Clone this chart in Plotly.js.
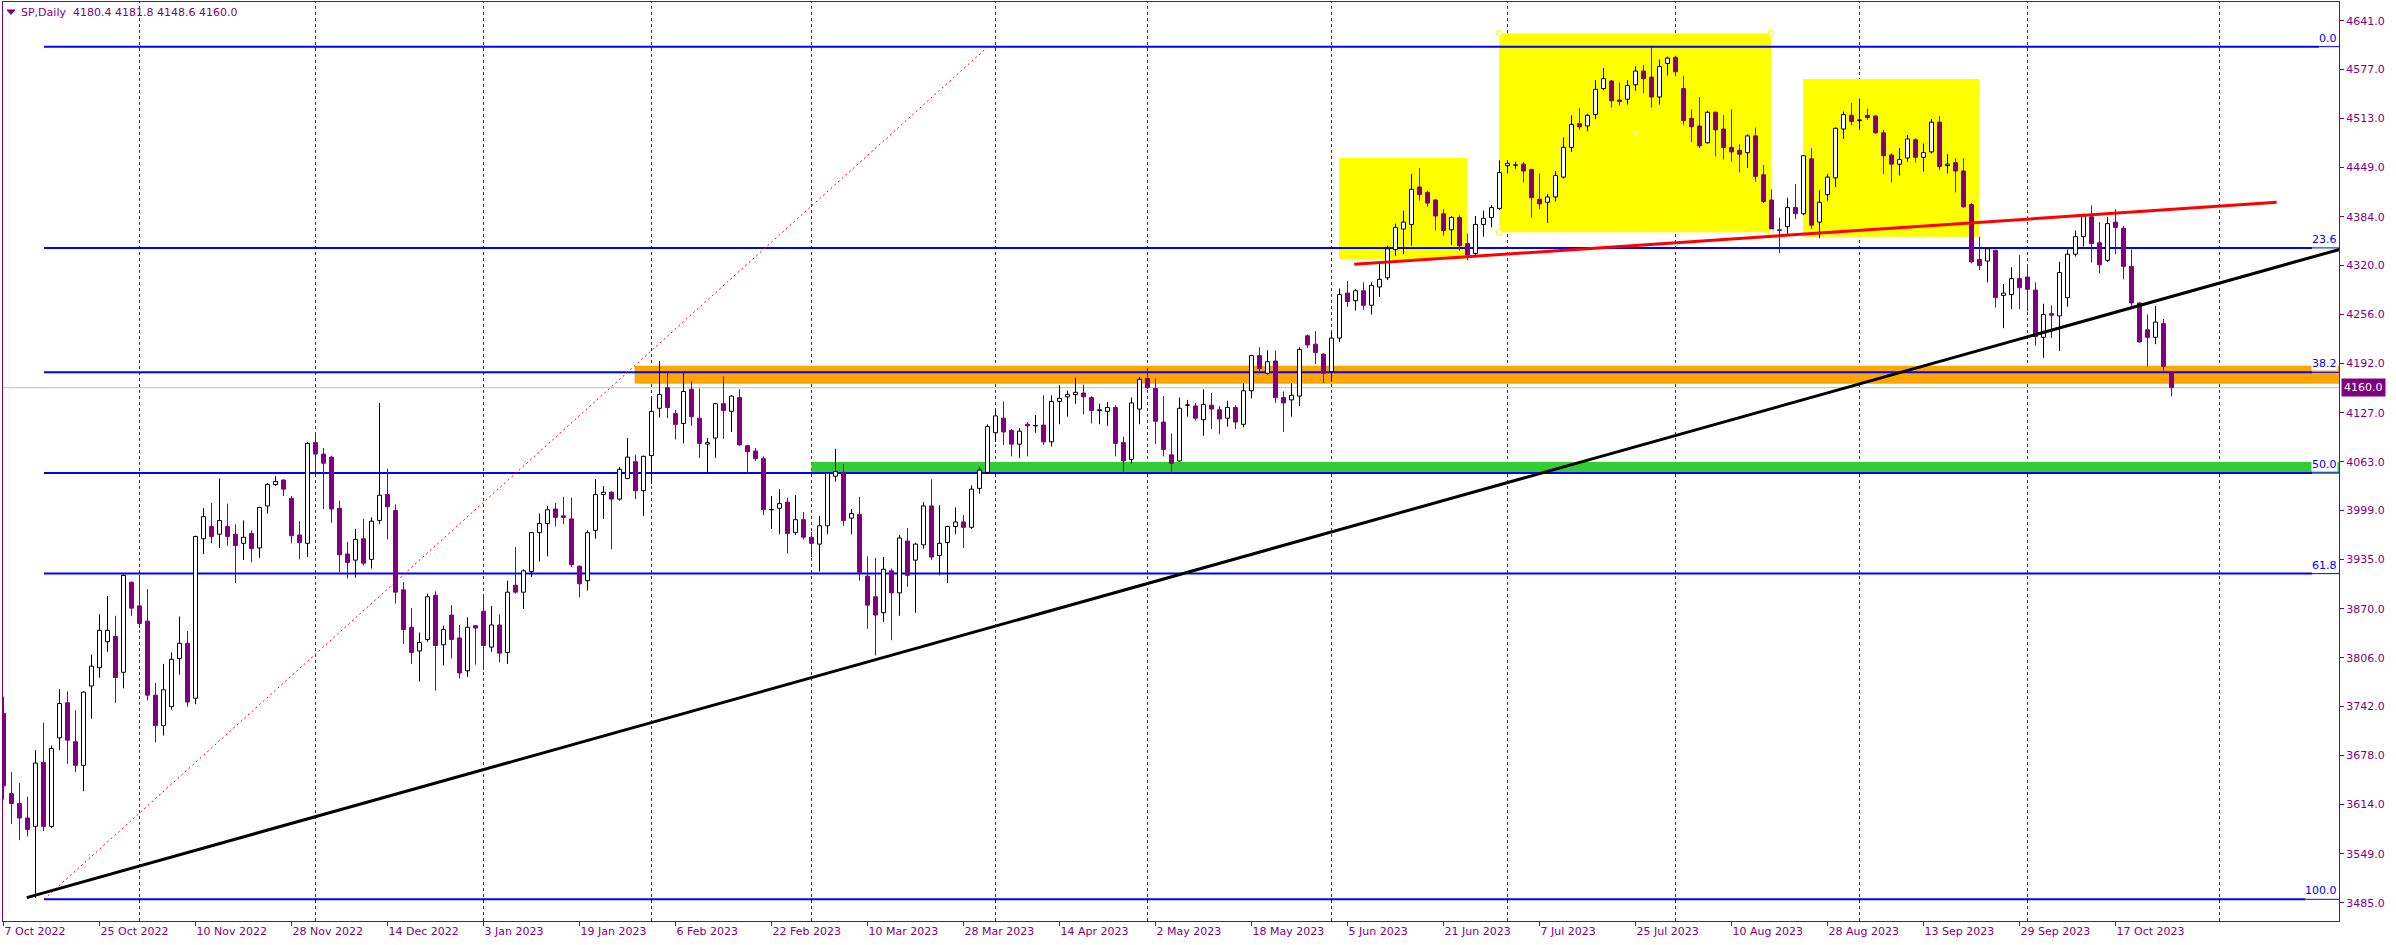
<!DOCTYPE html>
<html><head><meta charset="utf-8">
<script src="https://cdn.plot.ly/plotly-3.0.1.min.js"></script>
<style>html,body{margin:0;padding:0;background:#fff;}#chart{width:2396px;height:945px;}</style>
</head><body><div id="chart"></div>
<script>
// ---------- DATA ----------
const dates = [
"2022.10.07","2022.10.10","2022.10.11","2022.10.12","2022.10.13","2022.10.14","2022.10.17","2022.10.18","2022.10.19","2022.10.20","2022.10.21","2022.10.24","2022.10.25","2022.10.26","2022.10.27","2022.10.28","2022.10.31",
"2022.11.01","2022.11.02","2022.11.03","2022.11.04","2022.11.07","2022.11.08","2022.11.09","2022.11.10","2022.11.11","2022.11.14","2022.11.15","2022.11.16","2022.11.17","2022.11.18","2022.11.21","2022.11.22","2022.11.23","2022.11.24","2022.11.25","2022.11.28","2022.11.29","2022.11.30",
"2022.12.01","2022.12.02","2022.12.05","2022.12.06","2022.12.07","2022.12.08","2022.12.09","2022.12.12","2022.12.13","2022.12.14","2022.12.15","2022.12.16","2022.12.19","2022.12.20","2022.12.21","2022.12.22","2022.12.23","2022.12.27","2022.12.28","2022.12.29","2022.12.30",
"2023.01.03","2023.01.04","2023.01.05","2023.01.06","2023.01.09","2023.01.10","2023.01.11","2023.01.12","2023.01.13","2023.01.16","2023.01.17","2023.01.18","2023.01.19","2023.01.20","2023.01.23","2023.01.24","2023.01.25","2023.01.26","2023.01.27","2023.01.30","2023.01.31",
"2023.02.01","2023.02.02","2023.02.03","2023.02.06","2023.02.07","2023.02.08","2023.02.09","2023.02.10","2023.02.13","2023.02.14","2023.02.15","2023.02.16","2023.02.17","2023.02.20","2023.02.21","2023.02.22","2023.02.23","2023.02.24","2023.02.27","2023.02.28",
"2023.03.01","2023.03.02","2023.03.03","2023.03.06","2023.03.07","2023.03.08","2023.03.09","2023.03.10","2023.03.13","2023.03.14","2023.03.15","2023.03.16","2023.03.17","2023.03.20","2023.03.21","2023.03.22","2023.03.23","2023.03.24","2023.03.27","2023.03.28","2023.03.29","2023.03.30","2023.03.31",
"2023.04.03","2023.04.04","2023.04.05","2023.04.06","2023.04.10","2023.04.11","2023.04.12","2023.04.13","2023.04.14","2023.04.17","2023.04.18","2023.04.19","2023.04.20","2023.04.21","2023.04.24","2023.04.25","2023.04.26","2023.04.27","2023.04.28",
"2023.05.01","2023.05.02","2023.05.03","2023.05.04","2023.05.05","2023.05.08","2023.05.09","2023.05.10","2023.05.11","2023.05.12","2023.05.15","2023.05.16","2023.05.17","2023.05.18","2023.05.19","2023.05.22","2023.05.23","2023.05.24","2023.05.25","2023.05.26","2023.05.29","2023.05.30","2023.05.31",
"2023.06.01","2023.06.02","2023.06.05","2023.06.06","2023.06.07","2023.06.08","2023.06.09","2023.06.12","2023.06.13","2023.06.14","2023.06.15","2023.06.16","2023.06.19","2023.06.20","2023.06.21","2023.06.22","2023.06.23","2023.06.26","2023.06.27","2023.06.28","2023.06.29","2023.06.30",
"2023.07.03","2023.07.04","2023.07.05","2023.07.06","2023.07.07","2023.07.10","2023.07.11","2023.07.12","2023.07.13","2023.07.14","2023.07.17","2023.07.18","2023.07.19","2023.07.20","2023.07.21","2023.07.24","2023.07.25","2023.07.26","2023.07.27","2023.07.28","2023.07.31",
"2023.08.01","2023.08.02","2023.08.03","2023.08.04","2023.08.07","2023.08.08","2023.08.09","2023.08.10","2023.08.11","2023.08.14","2023.08.15","2023.08.16","2023.08.17","2023.08.18","2023.08.21","2023.08.22","2023.08.23","2023.08.24","2023.08.25","2023.08.28","2023.08.29","2023.08.30","2023.08.31",
"2023.09.01","2023.09.04","2023.09.05","2023.09.06","2023.09.07","2023.09.08","2023.09.11","2023.09.12","2023.09.13","2023.09.14","2023.09.15","2023.09.18","2023.09.19","2023.09.20","2023.09.21","2023.09.22","2023.09.25","2023.09.26","2023.09.27","2023.09.28","2023.09.29",
"2023.10.02","2023.10.03","2023.10.04","2023.10.05","2023.10.06","2023.10.09","2023.10.10","2023.10.11","2023.10.12","2023.10.13","2023.10.16","2023.10.17","2023.10.18","2023.10.19","2023.10.20","2023.10.23","2023.10.24","2023.10.25","2023.10.26"
];

const open = [
3733,3628,3615,3596,3585,3669,3585,3701,3747,3696,
3665,3769,3793,3827,3834,3787,3905,3874,3854,3757,
3717,3742,3805,3825,3753,3962,3978,3968,3978,3968,
3956,3969,3950,4005,4033,4039,4015,3967,3956,4088,
4073,4069,4002,3942,3934,3962,3935,3986,4020,3999,
3895,3846,3815,3830,3888,3823,3862,3832,3789,3848,
3867,3820,3849,3813,3901,3892,3919,3970,3982,4001,
3992,3988,3926,3907,3973,4020,4023,4014,4041,4063,
4025,4071,4133,4160,4126,4113,4158,4120,4086,4094,
4139,4129,4147,4084,4077,4067,4000,4002,4010,3970,
3987,3964,3955,3979,4044,4049,3989,3994,3913,3886,
3865,3920,3891,3959,3934,3954,4005,3940,3957,3978,
3984,3977,4028,4049,4101,4120,4104,4086,4112,4110,
4111,4089,4142,4148,4151,4153,4147,4130,4129,4134,
4088,4066,4132,4172,4159,4115,4072,4064,4137,4136,
4118,4137,4131,4120,4134,4112,4156,4202,4179,4195,
4147,4144,4149,4228,4217,4204,4181,4225,4284,4274,
4287,4268,4292,4304,4341,4368,4374,4423,4416,4406,
4388,4367,4383,4349,4336,4374,4383,4395,4451,4451.5,
4453,4446,4407,4403,4410,4436,4475,4506,4503,4518,
4552,4562,4537,4538,4557,4575,4567,4541,4585,4593,
4552,4513,4503,4481,4521,4499,4475,4471,4468,4490,
4439,4406,4367,4371,4396,4388,4460,4377,4413,4435,
4499,4517,4510,4517,4516,4494,4465,4453,4461,4485,
4462,4469,4508,4451,4455,4444,4400,4328,4326,4340,
4281,4282,4303,4305,4288,4226,4257,4254,4278,4335,
4358,4384,4350,4327,4377,4369,4319,4271,4236,4226,
4244,4180.4
];

const high = [
3755,3656,3642,3624,3685,3721,3691,3765,3762,3737,
3762,3810,3863,3887,3861,3915,3906,3915,3896,3773,
3798,3813,3860,3841,3966,4002,4009,4041,4008,3981,
3986,3973,4004,4035,4044,4040,4018,3985,4089,4102,
4081,4071,4012,3958,3975,3988,3990,4140,4054,4007,
3905,3871,3839,3890,3893,3848,3875,3849,3859,3849,
3886,3874,3863,3907,3951,3922,3971,3995,4005,4009,
4017,4016,3927,3973,4040,4031,4024,4056,4094,4072,
4071,4149,4195,4182,4131,4179,4169,4159,4094,4140,
4175,4150,4158,4085,4081,4070,4018,4027,4016,4019,
3997,3971,3992,4049,4080,4060,4001,4017,3939,3937,
3938,3923,3967,3976,3957,4010,4040,4006,3979,4003,
3993,4032,4056,4112,4131,4142,4106,4107,4115,4124,
4150,4150,4163,4156,4173,4164,4149,4139,4141,4137,
4096,4147,4174,4186,4172,4149,4100,4147,4144,4140,
4158,4153,4136,4143,4137,4166,4203,4213,4209,4209,
4155,4166,4213,4230,4234,4205,4233,4290,4300,4289,
4298,4298,4323,4346,4375,4392,4440,4448,4418,4407,
4394,4385,4386,4362,4385,4392,4399,4458,4458,4456,
4456,4447,4441,4414,4444,4488,4517,4527,4519,4563,
4579,4563,4560,4563,4581,4583,4607,4590,4594,4595,
4569,4525,4541,4523,4522,4517,4525,4479,4492,4501,
4452,4420,4383,4409,4427,4465,4474,4419,4440,4501,
4522,4533,4539,4526,4517,4498,4467,4474,4491,4487,
4480,4512,4516,4466,4461,4461,4402,4358,4343,4341,
4296,4318,4334,4318,4298,4270,4268,4325,4341,4366,
4388,4399,4377,4384,4394,4372,4341,4272,4256,4267,
4250,4181.8
];

const low = [
3620,3588,3567,3572,3491,3579,3583,3685,3667,3656,
3631,3726,3780,3814,3747,3766,3861,3845,3750,3695,
3704,3738,3784,3742,3745,3942,3956,3950,3953,3904,
3934,3931,3937,3995,4031,4018,3956,3935,3938,4048,
4001,3983,3918,3910,3911,3927,3923,3981,3961,3877,
3824,3798,3775,3827,3763,3796,3805,3779,3781,3797,
3790,3814,3800,3798,3890,3870,3912,3932,3939,3978,
3981,3925,3885,3894,3962,3988,3948,4012,4040,4014,
3992,4034,4121,4120,4092,4087,4110,4068,4049,4068,
4093,4102,4084,4048,4064,3993,3975,3968,3943,3967,
3961,3938,3919,3968,4037,3979,3968,3907,3844,3809,
3853,3829,3861,3899,3865,3949,3934,3914,3904,3968,
3950,3975,4021,4047,4089,4085,4070,4068,4070,4101,
4085,4083,4112,4122,4139,4125,4113,4112,4110,4070,
4047,4061,4112,4158,4086,4070,4047,4063,4122,4117,
4097,4106,4099,4109,4106,4108,4146,4179,4177,4140,
4102,4122,4136,4212,4191,4166,4168,4220,4266,4261,
4262,4256,4279,4301,4333,4335,4346,4405,4397,4366,
4359,4347,4340,4327,4331,4358,4370,4393,4441,4447,
4429,4383,4394,4376,4404,4434,4469,4498,4496,4512,
4550,4527,4530,4531,4549,4546,4527,4531,4569,4568,
4504,4482,4474,4480,4463,4459,4456,4442,4448,4430,
4402,4364,4336,4360,4381,4386,4368,4356,4405,4423,
4486,4504,4498,4511,4493,4440,4429,4438,4456,4455,
4443,4467,4445,4441,4416,4396,4323,4314,4298,4265,
4238,4263,4263,4260,4215,4199,4225,4208,4266,4332,
4345,4324,4310,4325,4335,4302,4265,4219,4188,4217,
4181,4148.6
];

const close = [
3638,3615,3596,3581,3668,3585,3687,3746,3698,3665,
3761,3795,3842,3842,3780,3914,3871,3851,3757,3717,
3764,3804,3825,3748,3965,3991,3965,3986,3965,3953,
3964,3949,4003,4033,4037,4027,3966,3957,4087,4073,
4061,4001,3941,3931,3961,3930,3985,4019,4004,3892,
3843,3813,3826,3886,3822,3843,3830,3786,3846,3845,
3822,3849,3812,3892,3892,3920,3970,3982,4000,3990,
3990,3928,3903,3970,4020,4023,4014,4053,4069,4025,
4070,4129,4151,4134,4112,4155,4122,4087,4088,4139,
4130,4149,4085,4076,4067,4000,4000.5,4008,3969,3987,
3964,3956,3979,4048,4050,3986,3995,3918,3875,3862,
3922,3891,3963,3914,3955,4005,3938,3956,3978,3984,
3977,4027,4052,4109,4123,4102,4086,4103,4110,4110.5,
4089,4142,4146,4151,4154,4148,4130,4131,4134,4087,
4064,4140,4171,4160,4116,4079,4061,4133,4137.5,4120,
4138,4132,4119,4134,4115,4156,4202,4185,4194,4147,
4140,4150,4210,4216,4206,4179,4225,4282,4273,4287,
4268,4294,4302,4342,4370,4377,4420,4413,4402,4385,
4366,4383,4346,4334,4374,4382,4396,4442,4454,4452,
4444,4409,4401,4410,4438,4475,4505,4502,4517,4551,
4565,4536,4535,4556,4575,4565,4541,4581,4592,4574,
4510,4502,4477,4521,4498,4475,4469,4466,4490,4437,
4404,4365,4366,4396,4388,4464,4373,4403,4436,4500,
4518,4509,4511,4514,4494,4464,4453,4459,4486,4462,
4468,4508,4450,4453,4444,4397,4325,4320,4342,4278,
4284,4303,4291,4289,4227,4256,4255,4311,4335,4358,
4385,4349,4321,4375,4370,4319,4271,4220,4226,4246,
4188,4160.0
];

const tickDates = ["2022.10.07","2022.10.25","2022.11.10","2022.11.28","2022.12.14","2023.01.03","2023.01.19","2023.02.06","2023.02.22","2023.03.10","2023.03.28","2023.04.14","2023.05.02","2023.05.18","2023.06.05","2023.06.21","2023.07.07","2023.07.25","2023.08.10","2023.08.28","2023.09.13","2023.09.29","2023.10.17"];
const tickLabels = ["7 Oct 2022","25 Oct 2022","10 Nov 2022","28 Nov 2022","14 Dec 2022","3 Jan 2023","19 Jan 2023","6 Feb 2023","22 Feb 2023","10 Mar 2023","28 Mar 2023","14 Apr 2023","2 May 2023","18 May 2023","5 Jun 2023","21 Jun 2023","7 Jul 2023","25 Jul 2023","10 Aug 2023","28 Aug 2023","13 Sep 2023","29 Sep 2023","17 Oct 2023"];
const priceTicks = [4641,4577,4513,4449,4384,4320,4256,4192,4127,4063,3999,3935,3870,3806,3742,3678,3614,3549,3485];
const monthStarts = ["2022.11.01","2022.12.01","2023.01.03","2023.02.01","2023.03.01","2023.04.03","2023.05.01","2023.06.01","2023.07.03","2023.08.01","2023.09.01","2023.10.02"];

const fibLabels = ["0.0","23.6","38.2","50.0","61.8","100.0"];
const fibPrices = [4607.0,4343.2,4180.1,4048.2,3916.3,3489.4];

const symbolTitle = "SP,Daily";
const lastPrice = 4160.0;

// zones and hand drawn objects (bar-index, price)
const yellowZones = [[166.94,182.94,4328.7,4461.0],[186.97,220.94,4363.7,4624.5],[224.94,246.94,4357.9,4564.6]];
const orangeZone = [78.89,4165.2,4188.8];
const greenZone = [100.99,4047.5,4062.6];
const trendBlack = [[2.9,3491.7],[292.0,4341.2]];
const neckRed = [[168.85,4321.7],[284.15,4402.9]];
const fibDiag = [[5.06,3489.4],[123.06,4607.0]];

// ---------- STYLE ----------
const PURPLE = "#800080";
const FONT = "DejaVu Sans";
const XR = [-0.0625, 291.9375];
const fibStart = 5.06;
const fibLabelLeft = [289.44,288.56,288.56,288.56,288.56,287.69];

// ---------- TRACES ----------
const upX=[],upB=[],upH=[],dnX=[],dnB=[],dnH=[];
const wUpX=[],wUpY=[],wDnX=[],wDnY=[];
for(let i=0;i<dates.length;i++){
  const o=open[i],c=close[i],h=high[i],l=low[i];
  const top=Math.max(o,c),bot=Math.min(o,c);
  const up=c>=o;
  if(up){upX.push(dates[i]);upB.push(o);upH.push(c-o);}
  else{dnX.push(dates[i]);dnB.push(c);dnH.push(o-c);}
  const wx=up?wUpX:wDnX, wy=up?wUpY:wDnY;
  if(h>top){wx.push(dates[i],dates[i],null);wy.push(top,h,null);}
  if(l<bot){wx.push(dates[i],dates[i],null);wy.push(bot,l,null);}
}
const traces=[
 {type:"bar",x:upX,base:upB,y:upH,width:0.5,marker:{color:"#ffffff",line:{color:"#000000",width:1}},hoverinfo:"skip"},
 {type:"bar",x:dnX,base:dnB,y:dnH,width:0.5,marker:{color:PURPLE,line:{color:PURPLE,width:1}},hoverinfo:"skip"},
 {type:"scatter",mode:"lines",x:wUpX,y:wUpY,line:{color:"#000000",width:1},hoverinfo:"skip",connectgaps:false},
 {type:"scatter",mode:"lines",x:wDnX,y:wDnY,line:{color:PURPLE,width:1},hoverinfo:"skip",connectgaps:false}
];

// ---------- SHAPES ----------
const shapes=[];
yellowZones.forEach(z=>shapes.push({type:"rect",layer:"below",xref:"x",yref:"y",x0:z[0],x1:z[1],y0:z[2],y1:z[3],fillcolor:"#ffff00",line:{width:0}}));
shapes.push({type:"rect",layer:"below",xref:"x",yref:"y",x0:orangeZone[0],x1:XR[1],y0:orangeZone[1],y1:orangeZone[2],fillcolor:"#ffa500",line:{width:0}});
shapes.push({type:"rect",layer:"below",xref:"x",yref:"y",x0:greenZone[0],x1:XR[1],y0:greenZone[1],y1:greenZone[2],fillcolor:"#32cd32",line:{width:0}});
const sepIdx = monthStarts.map(d=>dates.indexOf(d)).concat([277]);
sepIdx.forEach(ix=>shapes.push({type:"line",layer:"below",xref:"x",yref:"paper",x0:ix,x1:ix,y0:0,y1:1,line:{color:PURPLE,width:1,dash:"3px,3px"}}));
shapes.push({type:"line",layer:"below",xref:"paper",yref:"y",x0:0,x1:1,y0:lastPrice,y1:lastPrice,line:{color:"#c0c0c0",width:1}});
fibPrices.forEach((p,k)=>{
  shapes.push({type:"line",layer:"below",xref:"x",yref:"y",x0:fibStart,x1:fibLabelLeft[k],y0:p,y1:p,line:{color:"#0000ff",width:2}});
  shapes.push({type:"line",layer:"below",xref:"x",yref:"y",x0:fibLabelLeft[k],x1:XR[1],y0:p,y1:p,line:{color:"#0000ff",width:1}});
});
// selection handles of middle yellow box
const yz=yellowZones[1];
[[yz[0],yz[3]],[yz[1],yz[3]],[yz[0],yz[2]],[yz[1],yz[2]]].forEach(pt=>shapes.push({type:"rect",layer:"above",xref:"x",yref:"y",xsizemode:"pixel",ysizemode:"pixel",xanchor:pt[0],yanchor:pt[1],x0:-2.5,x1:2.5,y0:-2.5,y1:2.5,fillcolor:"#ffffff",line:{color:"#ffff00",width:1}}));
shapes.push({type:"rect",layer:"above",xref:"x",yref:"y",xsizemode:"pixel",ysizemode:"pixel",xanchor:(yz[0]+yz[1])/2,yanchor:(yz[2]+yz[3])/2,x0:-1.5,x1:1.5,y0:-1.5,y1:1.5,fillcolor:"#ffffff",line:{width:0}});
// drawn lines
shapes.push({type:"line",layer:"above",xref:"x",yref:"y",x0:fibDiag[0][0],y0:fibDiag[0][1],x1:fibDiag[1][0],y1:fibDiag[1][1],line:{color:"#ff0000",width:1,dash:"2px,3px"}});
shapes.push({type:"line",layer:"above",xref:"x",yref:"y",x0:trendBlack[0][0],y0:trendBlack[0][1],x1:trendBlack[1][0],y1:trendBlack[1][1],line:{color:"#000000",width:3}});
shapes.push({type:"line",layer:"above",xref:"x",yref:"y",x0:neckRed[0][0],y0:neckRed[0][1],x1:neckRed[1][0],y1:neckRed[1][1],line:{color:"#ff0000",width:3}});
// header triangle
shapes.push({type:"path",xref:"paper",yref:"paper",path:"M 0.0017,0.9913 L 0.0051,0.9913 L 0.0034,0.9864 Z",fillcolor:PURPLE,line:{color:PURPLE,width:1}});

// ---------- ANNOTATIONS ----------
const annotations=[];
fibPrices.forEach((p,k)=>annotations.push({xref:"x",yref:"y",x:XR[1]-0.15,y:p,xanchor:"right",yanchor:"bottom",yshift:1,text:fibLabels[k],showarrow:false,font:{family:FONT,size:11,color:"#0000ff"},bgcolor:"#ffffff",borderpad:0}));
annotations.push({xref:"paper",yref:"y",x:1,y:lastPrice,xanchor:"left",yanchor:"middle",xshift:2,text:lastPrice.toFixed(1),showarrow:false,font:{family:FONT,size:11,color:"#ffffff"},bgcolor:PURPLE,borderpad:2});
annotations.push({xref:"paper",yref:"paper",x:0.0072,y:0.9884,xanchor:"left",yanchor:"middle",text:symbolTitle+"\u00a0\u00a0"+[open[271],high[271],low[271],close[271]].map(v=>v.toFixed(1)).join(" "),showarrow:false,font:{family:FONT,size:11,color:PURPLE},borderpad:0});

const layout={
 width:2396,height:945,
 margin:{l:3,r:57,t:2,b:24,pad:0},
 paper_bgcolor:"#ffffff",plot_bgcolor:"#ffffff",
 showlegend:false,barmode:"overlay",hovermode:false,
 font:{family:FONT,size:11,color:PURPLE},
 xaxis:{type:"category",categoryorder:"array",categoryarray:dates,range:XR,showgrid:false,zeroline:false,showline:true,linecolor:PURPLE,linewidth:1,mirror:true,
   ticks:"outside",ticklen:4,tickcolor:PURPLE,tickwidth:1,tickvals:tickDates,ticktext:tickLabels,ticklabelposition:"outside right",tickangle:0,
   tickfont:{family:FONT,size:11,color:PURPLE},automargin:false,fixedrange:true},
 yaxis:{side:"right",range:[3461.0,4665.5],showgrid:false,zeroline:false,showline:true,linecolor:PURPLE,linewidth:1,mirror:true,
   ticks:"outside",ticklen:4,tickcolor:PURPLE,tickwidth:1,tickvals:priceTicks,tickformat:".1f",
   tickfont:{family:FONT,size:11,color:PURPLE},automargin:false,fixedrange:true},
 shapes:shapes,annotations:annotations
};
Plotly.newPlot("chart",traces,layout,{staticPlot:true,displayModeBar:false});
</script>
</body></html>
